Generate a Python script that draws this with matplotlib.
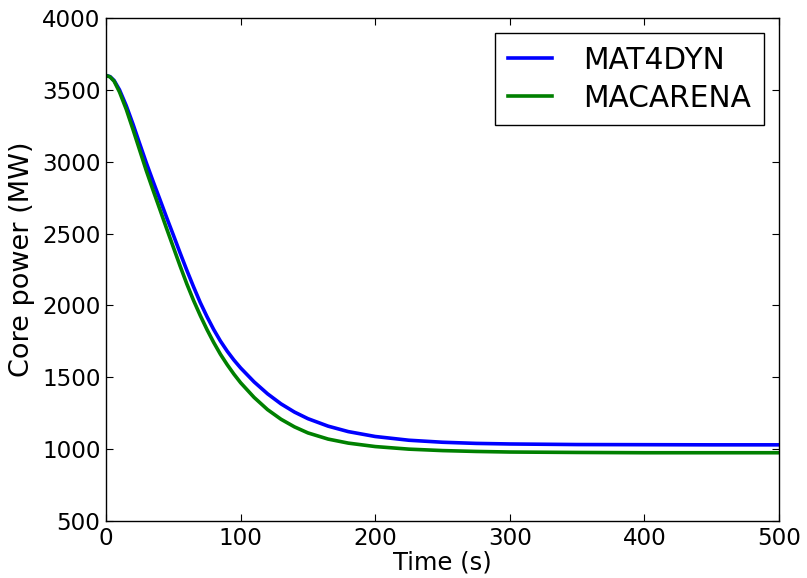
import matplotlib
matplotlib.use("Agg")
import matplotlib.pyplot as plt

time_s = [0, 3, 6, 10, 15, 20, 25, 30, 35, 40, 45, 50, 55, 60, 65, 70, 75, 80, 85,
          90, 95, 100, 110, 120, 130, 140, 150, 165, 180, 200, 225, 250, 275, 300,
          350, 400, 450, 500]
mat4dyn = [3600, 3592, 3565, 3500, 3390, 3262, 3125, 2990, 2862, 2738, 2612, 2490,
           2366, 2245, 2130, 2020, 1922, 1832, 1752, 1682, 1620, 1565, 1468, 1385,
           1315, 1258, 1212, 1160, 1122, 1088, 1062, 1048, 1040, 1036, 1032, 1031,
           1030, 1030]
macarena = [3600, 3590, 3560, 3485, 3365, 3225, 3080, 2935, 2800, 2668, 2535, 2405,
            2275, 2150, 2035, 1930, 1832, 1742, 1660, 1588, 1522, 1462, 1360, 1275,
            1208, 1155, 1113, 1070, 1042, 1018, 1000, 990, 984, 980, 977, 975, 975,
            975]
series_labels = ["MAT4DYN", "MACARENA"]
x_ticks = [0, 100, 200, 300, 400, 500]
y_ticks = [500, 1000, 1500, 2000, 2500, 3000, 3500, 4000]

fig = plt.figure(figsize=(8.07, 5.78), dpi=100, facecolor="white")
ax = fig.add_axes([0.1314, 0.0986, 0.8339, 0.8703])

ax.plot(time_s, mat4dyn, color="#0000ff", lw=2.6, label=series_labels[0],
        solid_joinstyle="round")
ax.plot(time_s, macarena, color="#008000", lw=2.6, label=series_labels[1],
        solid_joinstyle="round")

ax.set_xlim(0, 500)
ax.set_ylim(500, 4000)
ax.set_xticks(x_ticks)
ax.set_yticks(y_ticks)
ax.tick_params(direction="in", top=True, right=True, length=5, width=0.8,
               labelsize=16.6, pad=4)
for s in ax.spines.values():
    s.set_linewidth(1.0)
    s.set_color("black")

ax.set_xlabel("Time (s)", fontsize=17.5, labelpad=1)
ax.set_ylabel("Core power (MW)", fontsize=19.5)
ax.yaxis.set_label_coords(-0.106, 0.52)

leg = ax.legend(loc="upper right", fontsize=21.3, fancybox=False, framealpha=1,
                edgecolor="black", handlelength=1.5, handletextpad=1.05,
                borderaxespad=0.52, borderpad=0.42, labelspacing=0.3)
leg.get_frame().set_linewidth(1.0)

fig.savefig("out.png", dpi=100, facecolor="white")
